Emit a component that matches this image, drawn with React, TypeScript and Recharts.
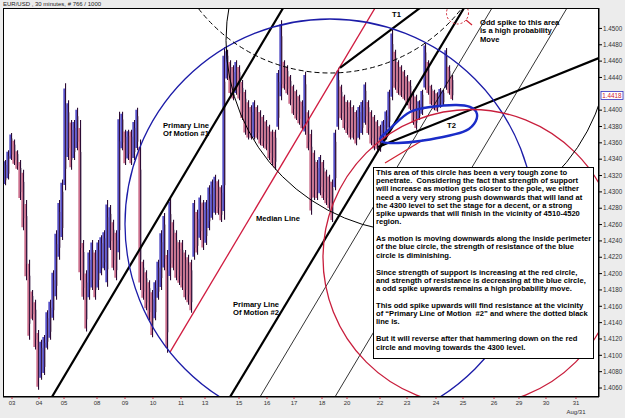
import { Bar, CartesianGrid, ComposedChart, Line, ReferenceDot, ReferenceLine, XAxis, YAxis } from "recharts";

// EUR/USD 30 min bars (high / low per bar)
const highs = [
  1.4339, 1.4351, 1.4372, 1.4364, 1.4351, 1.4339, 1.4327, 1.429, 1.4217, 1.418,
  1.4168, 1.4131, 1.4119, 1.4125, 1.4155, 1.4168, 1.4204, 1.4253, 1.429, 1.4315,
  1.4433, 1.4412, 1.4388, 1.4388, 1.4403, 1.4388, 1.4241, 1.4204, 1.4229, 1.4241,
  1.4229, 1.4241, 1.4247, 1.4253, 1.429, 1.4284, 1.4266, 1.4253, 1.4398, 1.4398,
  1.4376, 1.4376, 1.4376, 1.4388, 1.4403, 1.4364, 1.4217, 1.4204, 1.4192, 1.418,
  1.4192, 1.4217, 1.4253, 1.4274, 1.4229, 1.4293, 1.4266, 1.4253, 1.4241, 1.4241,
  1.4229, 1.4223, 1.4217, 1.429, 1.4278, 1.4296, 1.429, 1.429, 1.4308, 1.4315,
  1.4321, 1.4315, 1.4308, 1.4477, 1.4474, 1.4461, 1.4455, 1.4461, 1.4455, 1.4437,
  1.4425, 1.4412, 1.4406, 1.4412, 1.4406, 1.44, 1.4394, 1.4388, 1.4382, 1.4376,
  1.4376, 1.4449, 1.451, 1.4461, 1.4455, 1.4443, 1.4431, 1.4425, 1.4419, 1.4412,
  1.4447, 1.44, 1.4376, 1.4351, 1.4339, 1.4345, 1.4339, 1.4327, 1.4321, 1.4315,
  1.4376, 1.4452, 1.4431, 1.4419, 1.4412, 1.4412, 1.4406, 1.44, 1.4406, 1.4412,
  1.4434, 1.4412, 1.44, 1.4394, 1.4388, 1.4382, 1.4388, 1.44, 1.4425, 1.4498,
  1.4474, 1.4461, 1.4455, 1.4449, 1.4443, 1.4437, 1.4425, 1.4419, 1.4412, 1.4425,
  1.4482, 1.4461, 1.4431, 1.4425, 1.4422, 1.4427, 1.4425, 1.4476, 1.4455, 1.4443,
];
const lows = [
  1.4308, 1.4315, 1.4339, 1.4333, 1.4327, 1.429, 1.4253, 1.4192, 1.4119, 1.4143,
  1.4107, 1.4058, 1.407, 1.4076, 1.4107, 1.4119, 1.4143, 1.4168, 1.4217, 1.4241,
  1.4302, 1.4339, 1.4327, 1.4339, 1.4351, 1.4192, 1.4168, 1.4129, 1.4168, 1.418,
  1.4168, 1.418, 1.4198, 1.4204, 1.4184, 1.4229, 1.4204, 1.4192, 1.4217, 1.4351,
  1.4333, 1.4339, 1.4333, 1.4339, 1.4351, 1.418, 1.4168, 1.4155, 1.4143, 1.4122,
  1.4143, 1.4168, 1.418, 1.4204, 1.4103, 1.4192, 1.4204, 1.4192, 1.4186, 1.418,
  1.4168, 1.4162, 1.4152, 1.4217, 1.4223, 1.4241, 1.4229, 1.4235, 1.4253, 1.4266,
  1.4272, 1.4272, 1.4263, 1.4266, 1.4437, 1.4419, 1.4412, 1.4419, 1.4412, 1.4388,
  1.437, 1.4364, 1.4364, 1.4364, 1.4364, 1.4357, 1.4354, 1.4351, 1.4339, 1.4333,
  1.4327, 1.4376, 1.4412, 1.4425, 1.4419, 1.4406, 1.4394, 1.4388, 1.4382, 1.4376,
  1.437, 1.4351, 1.4272, 1.429, 1.429, 1.4296, 1.429, 1.4284, 1.4278, 1.4263,
  1.4302, 1.4376, 1.4388, 1.4376, 1.437, 1.4364, 1.4364, 1.4357, 1.4364, 1.437,
  1.4382, 1.437, 1.4357, 1.4351, 1.4351, 1.4349, 1.4357, 1.4364, 1.4376, 1.4412,
  1.4425, 1.4419, 1.4416, 1.4412, 1.4406, 1.44, 1.4382, 1.4376, 1.4388, 1.4394,
  1.4425, 1.4419, 1.4406, 1.44, 1.4398, 1.4403, 1.4406, 1.4425, 1.4419, 1.4412,
];
const lastPrice = 1.4418;

// day separators (bar index) and their labels
const dayTicks = [2.33, 11.33, 19.67, 30.67, 40, 49.33, 58.67, 66.67, 78, 87.33, 96.33, 105.67, 114, 125, 134, 143.67, 152.67, 163, 171.33, 180.33, 190.33];
const dayLabels = ["03", "04", "05", "08", "09", "10", "11", "13", "15", "16", "17", "18", "20", "22", "23", "24", "25", "26", "29", "30", "31"];
// 1.4420 is covered by the last-price tag
const priceTicks = [
  1.406, 1.408, 1.41, 1.412, 1.414, 1.416, 1.418, 1.42, 1.422, 1.424, 1.426, 1.428,
  1.43, 1.432, 1.434, 1.436, 1.438, 1.44, 1.444, 1.446, 1.448, 1.45,
];

// drawn annotations, in (bar index, price)
const motionLines = [
  [13.67, 1.40368, 94.67, 1.45372],
  [73, 1.40368, 155, 1.45372],
  [124.33, 1.43549, 200, 1.44668],
  [111.67, 1.44516, 141, 1.45324],
];
const medianLine = [55, 1.4104, 125.33, 1.45372];
const thinLines = [
  [83, 1.40368, 164.33, 1.45372],
  [108, 1.40368, 189.33, 1.45372],
];
const redArrows = [
  [126.67, 1.43353, 139.33, 1.43635],
  [155.67, 1.45042, 153.67, 1.45103],
];
const t2Loop = [
  { i: 125, p: 1.43659 }, { i: 130, p: 1.43831 }, { i: 135, p: 1.43977 }, { i: 141.67, p: 1.44039 },
  { i: 150, p: 1.44063 }, { i: 155, p: 1.44039 }, { i: 157.33, p: 1.43953 }, { i: 156.33, p: 1.43831 },
  { i: 152.67, p: 1.43733 }, { i: 146, p: 1.43672 }, { i: 138.33, p: 1.43623 }, { i: 131, p: 1.43598 },
  { i: 126, p: 1.4361 }, { i: 125, p: 1.43659 },
];
const circleCenters = [
  { x: 108.33, y: 1.42607 }, // blue
  { x: 155.33, y: 1.42197 }, // red
  { x: 108.33, y: 1.46492 }, // dashed black
  { x: 137.67, y: 1.44851 }, // thin black
  { x: 150.83, y: 1.45189 }, // small red dashed target
];

const font = "'Liberation Sans', Arial, sans-serif";

const boxText = [
  ["This area of this circle has been a very tough zone to", "penetrate.  Considering the fact that strength of support", "will increase as motion gets closer to the pole, we either", "need a very very strong push downwards that will land at", "the 4300 level to set the stage for a decent, or a strong", "spike upwards that will finish in the vicinity of 4510-4520", "region."],
  ["As motion is moving downwards along the inside perimeter", "of the blue circle, the strength of resistance of the blue", "circle is diminishing."],
  ["Since strength of support is increasing at the red circle,", "and strength of resistance is decreasing at the blue circle,", "a odd spike upwards remains a high probability move."],
  ["This odd spike upwards will find resistance at the vicinity", "of \u201CPrimary Line of Motion  #2\u201D and where the dotted black", "line is."],
  ["But it will reverse after that hammering down on the red", "circle and moving towards the 4300 level."],
];

function PriceBar(props: any) {
  const { x, y, width, height, payload } = props;
  if (height == null || isNaN(y)) return null;
  const cx = x + width / 2;
  const col = payload.up ? "#4c46c4" : "#c86886";
  return (
    <g>
      <line x1={cx - 0.8} x2={cx - 0.8} y1={y + height * 0.05} y2={y + height * 0.95} stroke={col} strokeWidth={1.6} />
      <line x1={cx + 0.6} x2={cx + 0.6} y1={y} y2={y + height} stroke="#2c0c34" strokeWidth={1.1} />
      <line x1={cx + 1.4} x2={cx + 1.4} y1={y + height * 0.2} y2={y + height * 0.8} stroke="#9a8aa0" strokeWidth={0.8} />
    </g>
  );
}

function DayTick(props: any) {
  const { x, y, payload } = props;
  const k = dayTicks.indexOf(payload.value);
  return (
    <g>
      <text x={x} y={y + 4} textAnchor="middle" fontSize={6} fontFamily={font} fill="#333">{dayLabels[k]}</text>
      {k === dayTicks.length - 1 && (
        <text x={x} y={y + 13} textAnchor="middle" fontSize={6} fontFamily={font} fill="#333">Aug/31</text>
      )}
    </g>
  );
}

function PriceTag(props: any) {
  const vb = props.viewBox || {};
  const x = vb.x + vb.width + 2;
  const y = vb.y;
  return (
    <g>
      <rect x={x} y={y - 4} width={22} height={8} fill="#fff" stroke="#3030c0" strokeWidth={0.8} />
      <text x={x + 11} y={y + 2.2} textAnchor="middle" fontSize={6.3} fontFamily={font} fill="#d02030">{lastPrice.toFixed(4)}</text>
    </g>
  );
}

const noteStyle = (left: number, top: number): any => ({
  position: "absolute", left, top, font: `bold 7.6px/8.4px ${font}`, whiteSpace: "pre", color: "#000",
});

export default function App() {
  const rows = highs.map((h, i) => ({
    i,
    range: [lows[i], h],
    up: i === 0 ? true : h + lows[i] >= highs[i - 1] + lows[i - 1],
  }));
  const rings = [
    { stroke: "#1c1ca8", w: 1.3, dash: undefined, r: 205 },
    { stroke: "#c81e3c", w: 1.3, dash: undefined, r: 148 },
    { stroke: "#000", w: 1, dash: "5 3", r: 166.5 },
    { stroke: "#000", w: 1, dash: undefined, r: 192 },
    { stroke: "#d02030", w: 1, dash: "2 2", r: 11 },
  ];
  return (
    <div style={{ position: "fixed", left: 0, top: 0, width: 625, height: 418, background: "#ececec", overflow: "hidden", fontFamily: font }}>
      <div style={{ position: "absolute", left: 3, top: 0, fontSize: 6, lineHeight: "8px", color: "#222" }}>EUR/USD , 30 minutes, # 766 / 1000</div>
      <ComposedChart width={625} height={418} data={rows} margin={{ top: 8, right: 0, bottom: 0, left: 3 }}>
        <CartesianGrid fill="#fff" horizontal={false} vertical={false} />
        <XAxis
          type="number"
          dataKey="i"
          domain={[-2 / 3, 198]}
          allowDataOverflow
          ticks={dayTicks}
          interval={0}
          height={21}
          tick={<DayTick />}
          tickSize={2}
          tickLine={{ stroke: "#c03040" }}
          axisLine={{ stroke: "#000" }}
        />
        <YAxis
          orientation="right"
          type="number"
          domain={[1.4049, 1.4525]}
          allowDataOverflow
          ticks={priceTicks}
          interval={0}
          width={26}
          tickFormatter={(v: number) => v.toFixed(4)}
          tick={{ fontSize: 6.3, fill: "#333", fontFamily: font }}
          tickSize={3}
          tickMargin={1}
          tickLine={{ stroke: "#000" }}
          axisLine={{ stroke: "#000" }}
        />
        <Bar dataKey="range" barSize={3} shape={(p: any) => <PriceBar {...p} />} isAnimationActive={false} />
        {circleCenters.map((c, k) => (
          <ReferenceDot
            key={"c" + k}
            x={c.x}
            y={c.y}
            r={rings[k].r}
            fill="none"
            stroke={rings[k].stroke}
            strokeWidth={rings[k].w}
            strokeDasharray={rings[k].dash}
            ifOverflow="hidden"
          />
        ))}
        {thinLines.map((s, k) => (
          <ReferenceLine key={"thin" + k} segment={[{ x: s[0], y: s[1] }, { x: s[2], y: s[3] }]} stroke="#000" strokeWidth={0.8} ifOverflow="hidden" />
        ))}
        <ReferenceLine segment={[{ x: medianLine[0], y: medianLine[1] }, { x: medianLine[2], y: medianLine[3] }]} stroke="#d01c40" strokeWidth={1.3} ifOverflow="hidden" />
        {motionLines.map((s, k) => (
          <ReferenceLine key={"m" + k} segment={[{ x: s[0], y: s[1] }, { x: s[2], y: s[3] }]} stroke="#000" strokeWidth={2.2} ifOverflow="hidden" />
        ))}
        {redArrows.map((s, k) => (
          <ReferenceLine key={"a" + k} segment={[{ x: s[0], y: s[1] }, { x: s[2], y: s[3] }]} stroke="#d02030" strokeWidth={1.2} ifOverflow="hidden" />
        ))}
        <Line data={t2Loop} dataKey="p" type="natural" stroke="#1a2cc8" strokeWidth={2.4} dot={false} isAnimationActive={false} />
        <ReferenceLine y={lastPrice} stroke="none" ifOverflow="visible" label={<PriceTag />} />
      </ComposedChart>
      <div style={{ position: "absolute", left: 3, top: 8, width: 596, height: 389, border: "1px solid #000", boxSizing: "border-box", pointerEvents: "none" }} />
      <div style={noteStyle(163, 122)}>{"Primary Line\nOf Motion #1"}</div>
      <div style={noteStyle(256, 215)}>Median Line</div>
      <div style={noteStyle(233, 301)}>{"Primary Line\nOf Motion #2"}</div>
      <div style={noteStyle(392, 11)}>T1</div>
      <div style={noteStyle(447, 122)}>T2</div>
      <div style={noteStyle(480, 19)}>{"Odd spike to this area\nis a high probability\nMove"}</div>
      <div
        style={{
          position: "absolute", left: 373, top: 167, width: 221, height: 192, boxSizing: "border-box",
          border: "1px solid #000", background: "#fff", padding: "1px 0 0 2px",
          font: `bold 7.6px/8.2px ${font}`, color: "#000", whiteSpace: "pre",
        }}
      >
        {boxText.map((para, k) => (
          <div key={k} style={{ marginBottom: 8.8 }}>
            {para.join("\n")}
          </div>
        ))}
      </div>
    </div>
  );
}
